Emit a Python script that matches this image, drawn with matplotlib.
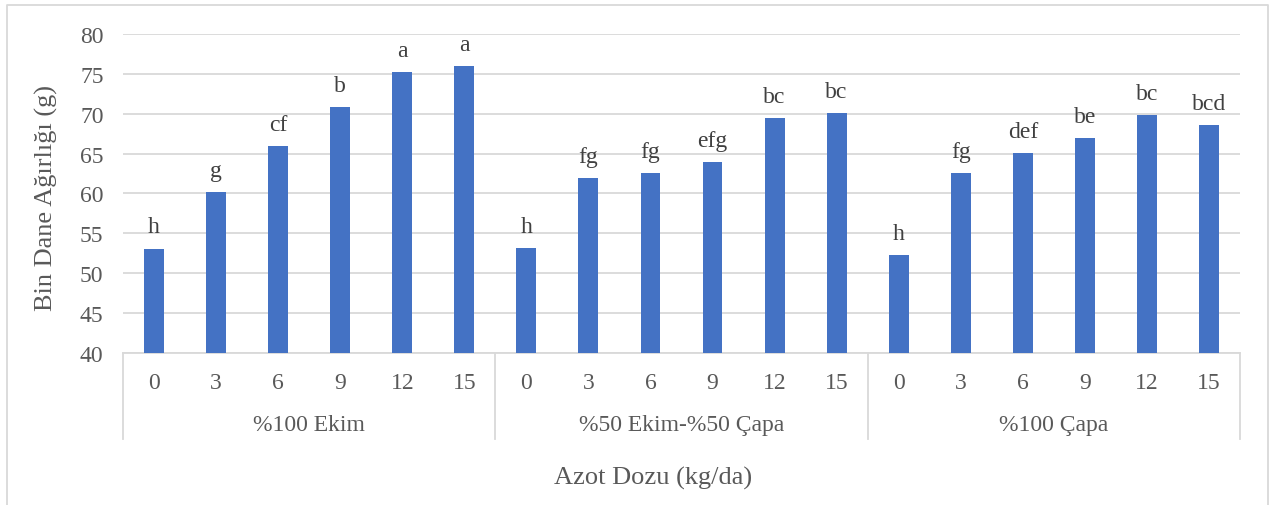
import matplotlib
matplotlib.use("Agg")
import matplotlib.pyplot as plt
import matplotlib.transforms as mtransforms
import numpy as np

plt.rcParams['font.family'] = ['Liberation Serif', 'DejaVu Serif']

groups = ["%100 Ekim", "%50 Ekim-%50 Çapa", "%100 Çapa"]
doses = ["0", "3", "6", "9", "12", "15"]
values_ekim = [53.1, 60.2, 65.9, 70.8, 75.2, 76.0]
values_karma = [53.2, 61.9, 62.6, 63.9, 69.5, 70.1]
values_capa = [52.3, 62.6, 65.1, 67.0, 69.8, 68.6]
letters_ekim = ["h", "g", "cf", "b", "a", "a"]
letters_karma = ["h", "fg", "fg", "efg", "bc", "bc"]
letters_capa = ["h", "fg", "def", "be", "bc", "bcd"]

values = values_ekim + values_karma + values_capa
letters = letters_ekim + letters_karma + letters_capa
tick_labels = doses * len(groups)

W, H = 1269, 506
fig = plt.figure(figsize=(W / 100, H / 100), dpi=100)
fig.patch.set_facecolor('white')

L, R, T, B = 123, 1240, 35, 354
ax = fig.add_axes([L / W, 1 - B / H, (R - L) / W, (B - T) / H])

x = np.arange(len(values))
bar_color = '#4472C4'
ax.bar(x, [v - 40 for v in values], bottom=40, width=0.32, color=bar_color, zorder=3)

ax.set_xlim(-0.5, len(values) - 0.5)
ax.set_ylim(40, 80)
ax.set_yticks(np.arange(40, 81, 5))
ax.yaxis.grid(True, color='#D9D9D9', linewidth=1.3, zorder=0)
ax.set_axisbelow(True)
for s in ['top', 'right', 'left']:
    ax.spines[s].set_visible(False)
ax.spines['bottom'].set_color('#D9D9D9')
ax.spines['bottom'].set_linewidth(1.3)

text_color = '#595959'
ax.tick_params(axis='y', length=0, pad=14, labelsize=17, labelcolor=text_color)
ax.set_xticks(x)
ax.set_xticklabels(tick_labels)
ax.tick_params(axis='x', length=0, pad=14, labelsize=17, labelcolor=text_color)

for xi, v, lab in zip(x, values, letters):
    ax.annotate(lab, (xi, v), xytext=(0, 8), textcoords='offset points',
                ha='center', va='bottom', fontsize=17, color='#404040')

# category separators
trans = mtransforms.blended_transform_factory(ax.transData, ax.transAxes)
sep_bottom = -(440 - B) / (B - T)
n = len(doses)
for k in range(len(groups) + 1):
    xs = k * n - 0.5
    ax.plot([xs, xs], [0, sep_bottom], transform=trans, color='#D9D9D9',
            linewidth=1.3, clip_on=False)
for k, g in enumerate(groups):
    ax.text(k * n + (n - 1) / 2, -(426 - B) / (B - T), g, transform=trans,
            ha='center', va='center', fontsize=17, color=text_color)

ax.set_ylabel("Bin Dane Ağırlığı (g)", fontsize=19, color=text_color)
ax.yaxis.set_label_coords(-(L - 58) / (R - L), 0.49)

fig.text(653 / W, 1 - 478 / H, "Azot Dozu (kg/da)", ha='center', va='center',
         fontsize=19, color=text_color)

# chart border
bx0, by0, bx1 = 7 / W, 1 - 6 / H, 1268 / W
fig.add_artist(plt.Line2D([bx0, bx0, bx1, bx1], [0, by0, by0, 0],
                          transform=fig.transFigure, color='#D9D9D9', linewidth=1.3))

fig.savefig('out.png', dpi=100)
